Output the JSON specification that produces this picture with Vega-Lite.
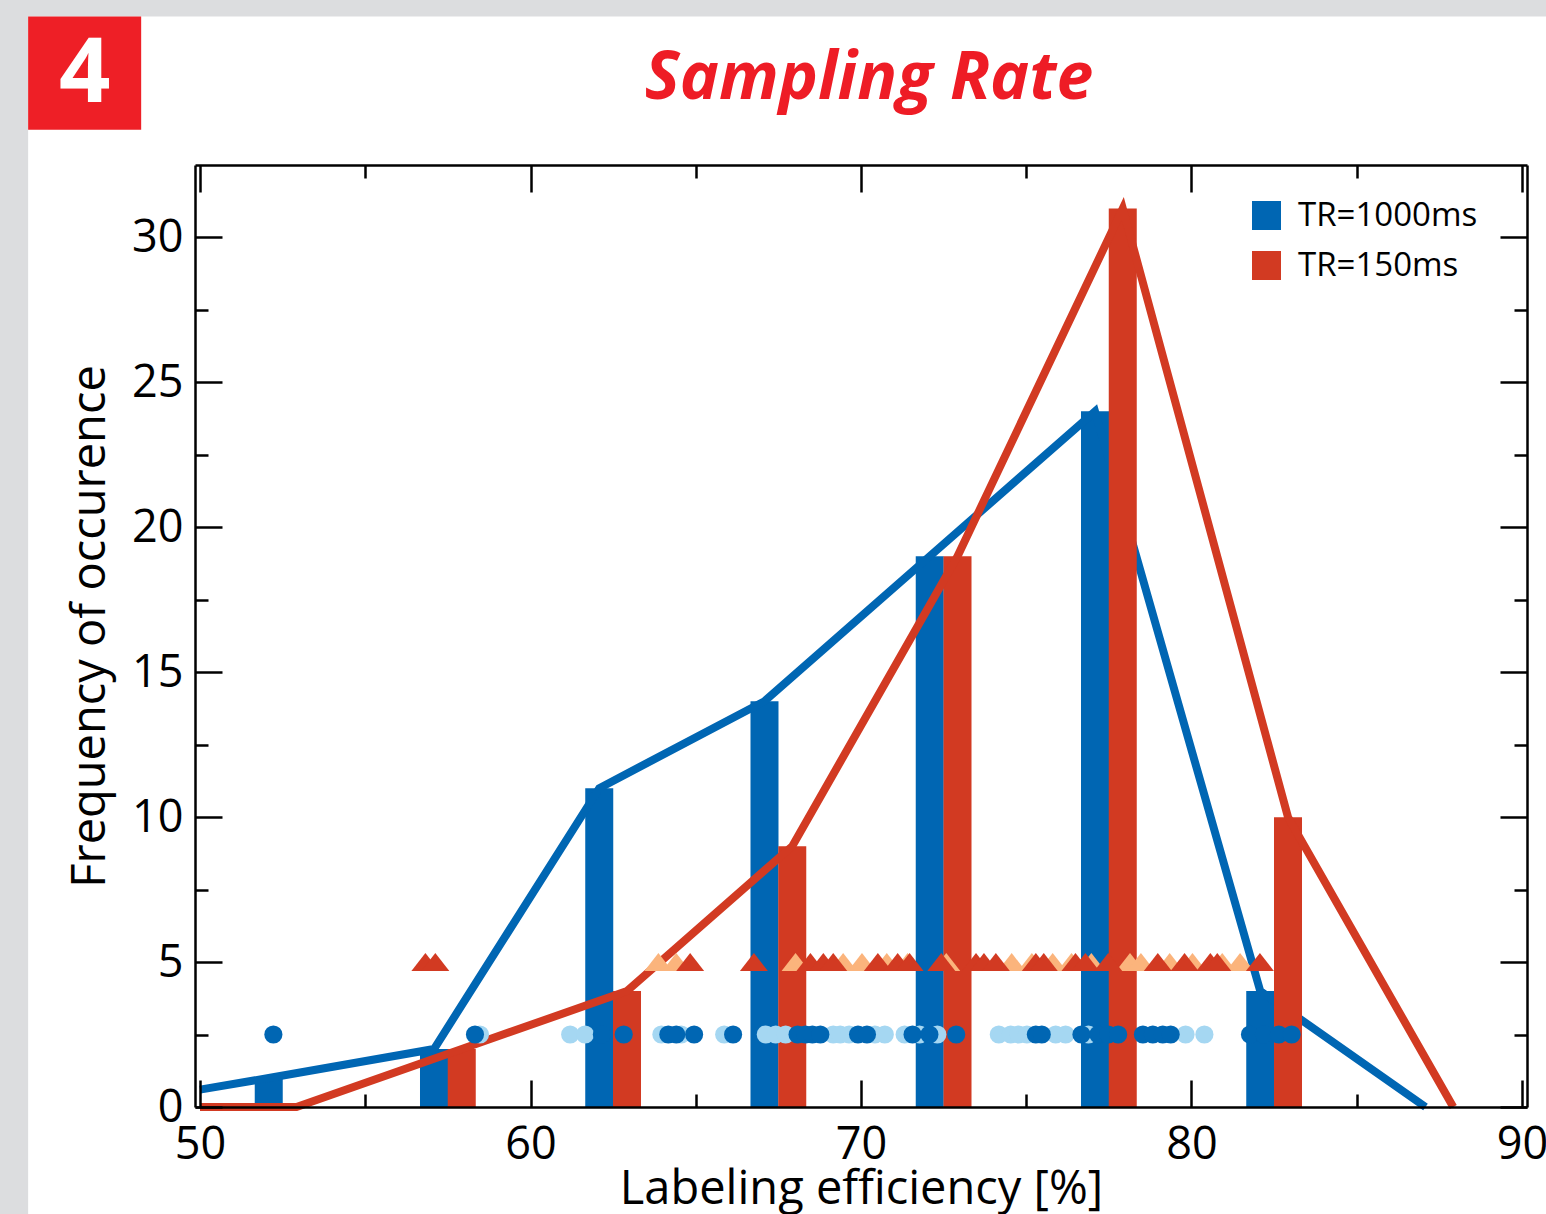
{
  "$schema": "https://vega.github.io/schema/vega-lite/v6.json",
  "width": 1332,
  "height": 942,
  "autosize": {"type": "none"},
  "padding": {"left": 195, "top": 165, "right": 19, "bottom": 107},
  "background": "#dcdddf",
  "title": {
    "text": "Sampling Rate",
    "font": "Open Sans",
    "fontSize": 66,
    "fontStyle": "italic",
    "fontWeight": "bold",
    "color": "#ee1c25",
    "anchor": "middle",
    "frame": "group",
    "baseline": "alphabetic",
    "offset": 0,
    "dy": 148,
    "dx": 8
  },
  "config": {
    "view": {"stroke": null},
    "font": "Open Sans"
  },
  "datasets": {
    "hist": [
      {"series": "TR=1000ms", "eff": 52.08, "freq": 1},
      {"series": "TR=1000ms", "eff": 57.08, "freq": 2},
      {"series": "TR=1000ms", "eff": 62.08, "freq": 11},
      {"series": "TR=1000ms", "eff": 67.08, "freq": 14},
      {"series": "TR=1000ms", "eff": 72.08, "freq": 19},
      {"series": "TR=1000ms", "eff": 77.08, "freq": 24},
      {"series": "TR=1000ms", "eff": 82.08, "freq": 4},
      {"series": "TR=150ms", "eff": 57.92, "freq": 2},
      {"series": "TR=150ms", "eff": 62.92, "freq": 4},
      {"series": "TR=150ms", "eff": 67.92, "freq": 9},
      {"series": "TR=150ms", "eff": 72.92, "freq": 19},
      {"series": "TR=150ms", "eff": 77.92, "freq": 31},
      {"series": "TR=150ms", "eff": 82.92, "freq": 10}
    ],
    "curve": [
      {"series": "TR=1000ms", "eff": 50, "freq": 0.6},
      {"series": "TR=1000ms", "eff": 52.08, "freq": 1},
      {"series": "TR=1000ms", "eff": 57.08, "freq": 2},
      {"series": "TR=1000ms", "eff": 62.08, "freq": 11},
      {"series": "TR=1000ms", "eff": 67.08, "freq": 14},
      {"series": "TR=1000ms", "eff": 72.08, "freq": 19},
      {"series": "TR=1000ms", "eff": 77.08, "freq": 24},
      {"series": "TR=1000ms", "eff": 82.08, "freq": 4},
      {"series": "TR=1000ms", "eff": 87.08, "freq": 0},
      {"series": "TR=150ms", "eff": 50, "freq": 0},
      {"series": "TR=150ms", "eff": 52.92, "freq": 0},
      {"series": "TR=150ms", "eff": 57.92, "freq": 2},
      {"series": "TR=150ms", "eff": 62.92, "freq": 4},
      {"series": "TR=150ms", "eff": 67.92, "freq": 9},
      {"series": "TR=150ms", "eff": 72.92, "freq": 19},
      {"series": "TR=150ms", "eff": 77.92, "freq": 31},
      {"series": "TR=150ms", "eff": 82.92, "freq": 10},
      {"series": "TR=150ms", "eff": 87.92, "freq": 0}
    ],
    "circles": [
      {"tone": "b_light", "eff": 58.47, "level": 2.5},
      {"tone": "b_light", "eff": 61.2, "level": 2.5},
      {"tone": "b_light", "eff": 61.65, "level": 2.5},
      {"tone": "b_light", "eff": 63.96, "level": 2.5},
      {"tone": "b_light", "eff": 64.56, "level": 2.5},
      {"tone": "b_light", "eff": 65.86, "level": 2.5},
      {"tone": "b_light", "eff": 67.12, "level": 2.5},
      {"tone": "b_light", "eff": 67.42, "level": 2.5},
      {"tone": "b_light", "eff": 67.72, "level": 2.5},
      {"tone": "b_light", "eff": 69.16, "level": 2.5},
      {"tone": "b_light", "eff": 69.37, "level": 2.5},
      {"tone": "b_light", "eff": 69.64, "level": 2.5},
      {"tone": "b_light", "eff": 70.42, "level": 2.5},
      {"tone": "b_light", "eff": 70.72, "level": 2.5},
      {"tone": "b_light", "eff": 71.32, "level": 2.5},
      {"tone": "b_light", "eff": 71.77, "level": 2.5},
      {"tone": "b_light", "eff": 72.31, "level": 2.5},
      {"tone": "b_light", "eff": 74.17, "level": 2.5},
      {"tone": "b_light", "eff": 74.53, "level": 2.5},
      {"tone": "b_light", "eff": 74.77, "level": 2.5},
      {"tone": "b_light", "eff": 75.02, "level": 2.5},
      {"tone": "b_light", "eff": 75.89, "level": 2.5},
      {"tone": "b_light", "eff": 76.19, "level": 2.5},
      {"tone": "b_light", "eff": 76.88, "level": 2.5},
      {"tone": "b_light", "eff": 79.82, "level": 2.5},
      {"tone": "b_light", "eff": 80.39, "level": 2.5},
      {"tone": "b_dark", "eff": 52.22, "level": 2.5},
      {"tone": "b_dark", "eff": 58.32, "level": 2.5},
      {"tone": "b_dark", "eff": 62.16, "level": 2.5},
      {"tone": "b_dark", "eff": 62.82, "level": 2.5},
      {"tone": "b_dark", "eff": 64.17, "level": 2.5},
      {"tone": "b_dark", "eff": 64.41, "level": 2.5},
      {"tone": "b_dark", "eff": 64.95, "level": 2.5},
      {"tone": "b_dark", "eff": 66.13, "level": 2.5},
      {"tone": "b_dark", "eff": 68.08, "level": 2.5},
      {"tone": "b_dark", "eff": 68.32, "level": 2.5},
      {"tone": "b_dark", "eff": 68.53, "level": 2.5},
      {"tone": "b_dark", "eff": 68.77, "level": 2.5},
      {"tone": "b_dark", "eff": 69.91, "level": 2.5},
      {"tone": "b_dark", "eff": 70.18, "level": 2.5},
      {"tone": "b_dark", "eff": 71.56, "level": 2.5},
      {"tone": "b_dark", "eff": 72.07, "level": 2.5},
      {"tone": "b_dark", "eff": 72.88, "level": 2.5},
      {"tone": "b_dark", "eff": 75.29, "level": 2.5},
      {"tone": "b_dark", "eff": 75.47, "level": 2.5},
      {"tone": "b_dark", "eff": 76.67, "level": 2.5},
      {"tone": "b_dark", "eff": 77.18, "level": 2.5},
      {"tone": "b_dark", "eff": 77.48, "level": 2.5},
      {"tone": "b_dark", "eff": 77.78, "level": 2.5},
      {"tone": "b_dark", "eff": 78.53, "level": 2.5},
      {"tone": "b_dark", "eff": 78.83, "level": 2.5},
      {"tone": "b_dark", "eff": 79.13, "level": 2.5},
      {"tone": "b_dark", "eff": 79.37, "level": 2.5},
      {"tone": "b_dark", "eff": 81.77, "level": 2.5},
      {"tone": "b_dark", "eff": 82.19, "level": 2.5},
      {"tone": "b_dark", "eff": 82.64, "level": 2.5},
      {"tone": "b_dark", "eff": 83.03, "level": 2.5}
    ],
    "triangles": [
      {"tone": "r_light", "eff": 63.87, "level": 5},
      {"tone": "r_light", "eff": 64.41, "level": 5},
      {"tone": "r_light", "eff": 68.02, "level": 5},
      {"tone": "r_light", "eff": 69.46, "level": 5},
      {"tone": "r_light", "eff": 70.03, "level": 5},
      {"tone": "r_light", "eff": 70.78, "level": 5},
      {"tone": "r_light", "eff": 71.41, "level": 5},
      {"tone": "r_light", "eff": 72.58, "level": 5},
      {"tone": "r_light", "eff": 74.56, "level": 5},
      {"tone": "r_light", "eff": 75.17, "level": 5},
      {"tone": "r_light", "eff": 75.8, "level": 5},
      {"tone": "r_light", "eff": 76.37, "level": 5},
      {"tone": "r_light", "eff": 76.97, "level": 5},
      {"tone": "r_light", "eff": 78.14, "level": 5},
      {"tone": "r_light", "eff": 78.47, "level": 5},
      {"tone": "r_light", "eff": 79.34, "level": 5},
      {"tone": "r_light", "eff": 80.03, "level": 5},
      {"tone": "r_light", "eff": 80.93, "level": 5},
      {"tone": "r_light", "eff": 81.47, "level": 5},
      {"tone": "r_dark", "eff": 56.82, "level": 5},
      {"tone": "r_dark", "eff": 57.12, "level": 5},
      {"tone": "r_dark", "eff": 64.83, "level": 5},
      {"tone": "r_dark", "eff": 66.76, "level": 5},
      {"tone": "r_dark", "eff": 68.47, "level": 5},
      {"tone": "r_dark", "eff": 68.86, "level": 5},
      {"tone": "r_dark", "eff": 69.16, "level": 5},
      {"tone": "r_dark", "eff": 70.51, "level": 5},
      {"tone": "r_dark", "eff": 71.11, "level": 5},
      {"tone": "r_dark", "eff": 71.47, "level": 5},
      {"tone": "r_dark", "eff": 72.43, "level": 5},
      {"tone": "r_dark", "eff": 73.48, "level": 5},
      {"tone": "r_dark", "eff": 73.72, "level": 5},
      {"tone": "r_dark", "eff": 74.08, "level": 5},
      {"tone": "r_dark", "eff": 75.29, "level": 5},
      {"tone": "r_dark", "eff": 75.53, "level": 5},
      {"tone": "r_dark", "eff": 76.49, "level": 5},
      {"tone": "r_dark", "eff": 76.79, "level": 5},
      {"tone": "r_dark", "eff": 77.48, "level": 5},
      {"tone": "r_dark", "eff": 78.98, "level": 5},
      {"tone": "r_dark", "eff": 79.79, "level": 5},
      {"tone": "r_dark", "eff": 80.57, "level": 5},
      {"tone": "r_dark", "eff": 80.78, "level": 5},
      {"tone": "r_dark", "eff": 82.07, "level": 5}
    ],
    "badge": [{"label": "4"}]
  },
  "resolve": {"axis": {"x": "independent", "y": "independent"}},
  "layer": [
    {
      "data": {"name": "badge"},
      "mark": {"type": "rect", "fill": "white", "clip": false},
      "encoding": {
        "x": {"datum": 44.8, "type": "quantitative", "scale": {"domain": [50, 90], "nice": false, "zero": false}, "axis": null},
        "x2": {"datum": 92},
        "y": {"datum": 37.62, "type": "quantitative", "scale": {"domain": [0, 32.5], "nice": false}, "axis": null},
        "y2": {"datum": -5}
      }
    },
    {
      "data": {"name": "badge"},
      "mark": {"type": "rect", "fill": "#ee1f26", "clip": false},
      "encoding": {
        "x": {"datum": 44.8, "type": "quantitative", "axis": null},
        "x2": {"datum": 48.22},
        "y": {"datum": 37.62, "type": "quantitative", "axis": null},
        "y2": {"datum": 33.72}
      }
    },
    {
      "data": {"name": "badge"},
      "mark": {"type": "text", "color": "white", "font": "Open Sans", "fontWeight": "bold", "fontSize": 90, "align": "center", "baseline": "alphabetic", "clip": false},
      "encoding": {
        "x": {"datum": 46.51, "type": "quantitative", "axis": null},
        "y": {"datum": 34.69, "type": "quantitative", "axis": null},
        "text": {"field": "label"}
      }
    },
    {
      "data": {"name": "hist"},
      "transform": [{"filter": "datum.series === 'TR=1000ms'"}],
      "mark": {"type": "bar", "size": 28},
      "encoding": {
        "x": {
          "field": "eff", "type": "quantitative",
          "axis": {
            "orient": "bottom",
            "values": [50, 55, 60, 65, 70, 75, 80, 85, 90],
            "labelExpr": "datum.value % 10 === 0 ? datum.label : ''",
            "tickSize": {"condition": {"test": "datum.value % 10 === 0", "value": -27}, "value": -13},
            "tickWidth": 2.5, "tickColor": "black",
            "domainColor": "black", "domainWidth": 2.5,
            "labelFont": "Open Sans", "labelFontSize": 45, "labelColor": "black",
            "labelPadding": 42, "labelFlush": false, "labelOverlap": false,
            "title": "Labeling efficiency [%]",
            "titleFont": "Open Sans", "titleFontSize": 47, "titleFontWeight": "normal", "titleColor": "black",
            "titlePadding": -15,
            "grid": false, "zindex": 1
          }
        },
        "y": {
          "field": "freq", "type": "quantitative",
          "axis": {
            "orient": "left",
            "values": [0, 2.5, 5, 7.5, 10, 12.5, 15, 17.5, 20, 22.5, 25, 27.5, 30],
            "labelExpr": "datum.value % 5 === 0 ? datum.label : ''",
            "tickSize": {"condition": {"test": "datum.value % 5 === 0", "value": -27}, "value": -13},
            "tickWidth": 2.5, "tickColor": "black",
            "domainColor": "black", "domainWidth": 2.5,
            "labelFont": "Open Sans", "labelFontSize": 45, "labelColor": "black",
            "labelPadding": 39, "labelFlush": false, "labelOverlap": false,
            "title": "Frequency of occurence",
            "titleFont": "Open Sans", "titleFontSize": 47, "titleFontWeight": "normal", "titleColor": "black",
            "titlePadding": 17, "titleY": 461,
            "grid": false, "zindex": 1
          }
        },
        "color": {
          "field": "series", "type": "nominal",
          "scale": {"domain": ["TR=1000ms", "TR=150ms"], "range": ["#0066b3", "#d23a22"]},
          "legend": {
            "orient": "none", "legendX": 1055, "legendY": 34,
            "title": null, "symbolType": "square", "symbolSize": 841, "symbolStrokeWidth": 0,
            "labelFont": "Open Sans", "labelFontSize": 33, "labelColor": "black", "labelLimit": 400,
            "labelOffset": 15, "rowPadding": 16, "padding": 0
          }
        }
      }
    },
    {
      "data": {"name": "curve"},
      "transform": [{"filter": "datum.series === 'TR=1000ms'"}],
      "mark": {"type": "line", "strokeWidth": 8, "color": "#0066b3", "strokeJoin": "miter"},
      "encoding": {
        "x": {
          "field": "eff", "type": "quantitative",
          "axis": {
            "orient": "top",
            "values": [50, 55, 60, 65, 70, 75, 80, 85, 90],
            "labels": false,
            "tickSize": {"condition": {"test": "datum.value % 10 === 0", "value": -27}, "value": -13},
            "tickWidth": 2.5, "tickColor": "black",
            "domainColor": "black", "domainWidth": 2.5,
            "title": null, "grid": false, "zindex": 1
          }
        },
        "y": {
          "field": "freq", "type": "quantitative",
          "axis": {
            "orient": "right",
            "values": [0, 2.5, 5, 7.5, 10, 12.5, 15, 17.5, 20, 22.5, 25, 27.5, 30],
            "labels": false,
            "tickSize": {"condition": {"test": "datum.value % 5 === 0", "value": -27}, "value": -13},
            "tickWidth": 2.5, "tickColor": "black",
            "domainColor": "black", "domainWidth": 2.5,
            "title": null, "grid": false, "zindex": 1
          }
        }
      }
    },
    {
      "data": {"name": "hist"},
      "transform": [{"filter": "datum.series === 'TR=150ms'"}],
      "mark": {"type": "bar", "size": 28},
      "encoding": {
        "x": {"field": "eff", "type": "quantitative", "axis": null},
        "y": {"field": "freq", "type": "quantitative", "axis": null},
        "color": {"field": "series", "type": "nominal"}
      }
    },
    {
      "data": {"name": "curve"},
      "transform": [{"filter": "datum.series === 'TR=150ms'"}],
      "mark": {"type": "line", "strokeWidth": 8, "color": "#d23a22", "strokeJoin": "miter"},
      "encoding": {
        "x": {"field": "eff", "type": "quantitative", "axis": null},
        "y": {"field": "freq", "type": "quantitative", "axis": null}
      }
    },
    {
      "data": {"name": "circles"},
      "mark": {"type": "point", "shape": "circle", "filled": true, "opacity": 1, "size": 330, "strokeWidth": 0},
      "encoding": {
        "x": {"field": "eff", "type": "quantitative", "axis": null},
        "y": {"field": "level", "type": "quantitative", "axis": null},
        "fill": {
          "field": "tone", "type": "nominal", "legend": null,
          "scale": {"domain": ["b_light", "b_dark", "r_light", "r_dark"], "range": ["#a5d7f2", "#0066b3", "#fbb47c", "#d23a22"]}
        }
      }
    },
    {
      "data": {"name": "triangles"},
      "mark": {"type": "point", "shape": "M-1,0.64L1,0.64L0,-0.64Z", "filled": true, "opacity": 1, "size": 784, "strokeWidth": 0},
      "encoding": {
        "x": {"field": "eff", "type": "quantitative", "axis": null},
        "y": {"field": "level", "type": "quantitative", "axis": null},
        "fill": {"field": "tone", "type": "nominal", "legend": null}
      }
    }
  ]
}
